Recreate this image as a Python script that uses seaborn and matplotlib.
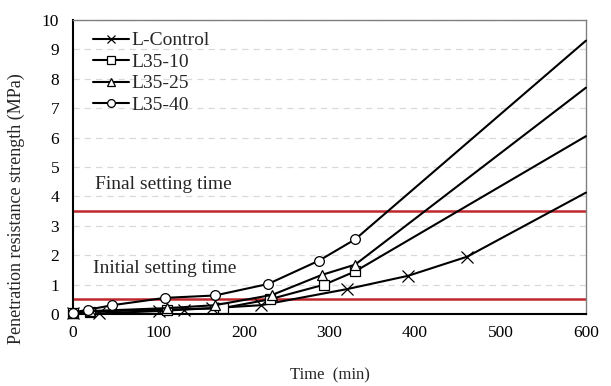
import numpy as np
import pandas as pd
import seaborn as sns
import matplotlib.pyplot as plt

# data (last point of each series is the
# extrapolated end at 600 min, drawn without marker)
ctrl_t = [0, 30, 100, 130, 163, 220, 321, 392, 461, 600]
ctrl_y = [0.05, 0.02, 0.10, 0.15, 0.20, 0.30, 0.85, 1.30, 1.95, 4.13]

l10_t = [0, 20, 110, 175, 230, 294, 330, 600]
l10_y = [0.05, 0.08, 0.15, 0.20, 0.50, 1.00, 1.45, 6.05]

l25_t = [0, 20, 110, 166, 233, 291, 330, 600]
l25_y = [0.05, 0.10, 0.20, 0.30, 0.65, 1.33, 1.68, 7.70]

l40_t = [0, 18, 46, 108, 166, 228, 288, 330, 600]
l40_y = [0.05, 0.15, 0.30, 0.55, 0.63, 1.02, 1.82, 2.54, 9.30]

series_names = ["L-Control", "L35-10", "L35-25", "L35-40"]
series_markers = ["x", "s", "^", "o"]

initial_set = 0.5
final_set = 3.5

sns.set_style("white")
plt.rcParams["font.family"] = ["Liberation Serif", "DejaVu Serif"]

fig = plt.figure(figsize=(6.11, 3.86), dpi=100)
ax = fig.add_axes([0.1195, 0.1865, 0.8395, 0.7615])

data = [(ctrl_t, ctrl_y), (l10_t, l10_y), (l25_t, l25_y), (l40_t, l40_y)]
for (t, y), name, mk in zip(data, series_names, series_markers):
    df = pd.DataFrame({"t": t, "y": y})
    sns.lineplot(data=df, x="t", y="y", ax=ax, color="black", lw=1.5,
                 marker=mk, markersize=7 if mk != "x" else 8,
                 markerfacecolor="white", markeredgecolor="black",
                 markeredgewidth=0.9, markevery=list(range(len(t) - 1)),
                 label=name, zorder=3, clip_on=False)

# setting time thresholds
ax.axhline(final_set, color="#c0272d", lw=1.8, zorder=2)
ax.axhline(initial_set, color="#c0272d", lw=1.8, zorder=2)
ax.text(26, 4.4, "Final setting time", fontsize=14, va="center")
ax.text(23, 1.55, "Initial setting time", fontsize=14, va="center")

ax.set_xlim(0, 600)
ax.set_ylim(0, 10)
ax.set_xticks(np.arange(0, 601, 100))
ax.set_yticks(np.arange(0, 11, 1))
ax.yaxis.grid(True, color="#d9d9d9", ls=(0, (5, 4)), lw=0.9)
ax.xaxis.grid(False)
ax.tick_params(direction="in", length=5, width=1, labelsize=12.5, colors="black")
ax.tick_params(axis="x", pad=8)
ax.tick_params(axis="y", pad=10)

for side in ["left", "bottom"]:
    ax.spines[side].set_color("black")
    ax.spines[side].set_linewidth(1.5)
for side in ["top", "right"]:
    ax.spines[side].set_color("#808080")
    ax.spines[side].set_linewidth(1.0)

ax.set_xlabel("Time  (min)", fontsize=12)
ax.xaxis.set_label_coords(0.5, -0.182)
ax.set_ylabel("Penetration resistance strength (MPa)", fontsize=13)
ax.yaxis.set_label_coords(-0.093, 0.36)

leg = ax.legend(loc="upper left", frameon=False, fontsize=14, handlelength=1.85,
                handletextpad=0.1, labelspacing=0.2, borderaxespad=0.2,
                bbox_to_anchor=(0.017, 1.0), markerscale=0.8)

fig.savefig("out.png", dpi=100)
